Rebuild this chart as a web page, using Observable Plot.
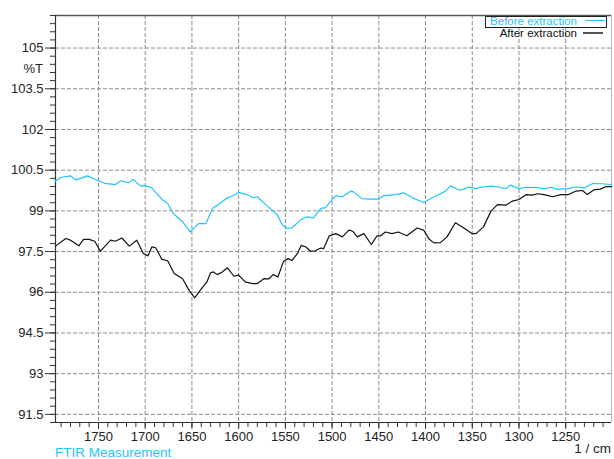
<!DOCTYPE html>
<html><head><meta charset="utf-8">
<script src="https://cdn.jsdelivr.net/npm/d3@7"></script>
<script src="https://cdn.jsdelivr.net/npm/@observablehq/plot@0.6"></script>
<style>
html,body{margin:0;padding:0;background:#fff;}
#wrap{position:relative;width:614px;height:459px;font-family:"Liberation Sans",Arial,sans-serif;overflow:hidden;}
#wrap svg{position:absolute;left:0;top:0;}
.t{position:absolute;white-space:nowrap;line-height:1;}
</style></head><body><div id="wrap"></div>
<script>
// Tick labels
const yTicks = [91.5, 93, 94.5, 96, 97.5, 99, 100.5, 102, 103.5, 105];
const xTicks = [1750, 1700, 1650, 1600, 1550, 1500, 1450, 1400, 1350, 1300, 1250];
const xDomain = [1796, 1201];
const yDomain = [91.2, 106.2];

// Series: Before extraction (wavenumber, %T)
const wnBefore = [1796,1791,1780,1774,1762,1750,1743,1732,1726,1718,1713,1705,1700,1693,1682,1676,1670,1660,1652,1646,1643,1635,1628,1621,1612,1607,1600,1591,1585,1580,1571,1559,1553,1548,1543,1534,1527,1520,1512,1507,1502,1496,1489,1480,1477,1468,1459,1450,1445,1432,1423,1414,1402,1391,1380,1373,1364,1359,1354,1346,1339,1329,1321,1314,1309,1300,1293,1282,1273,1266,1259,1248,1239,1230,1221,1211,1201];
const tBefore = [100.09,100.23,100.29,100.14,100.29,100.11,100.01,99.97,100.11,100.03,100.16,99.92,99.93,99.85,99.42,99.27,98.90,98.60,98.22,98.43,98.53,98.53,99.09,99.25,99.48,99.55,99.68,99.60,99.49,99.52,99.23,98.87,98.47,98.35,98.37,98.66,98.78,98.74,99.09,99.12,99.33,99.56,99.52,99.73,99.70,99.45,99.43,99.43,99.56,99.60,99.66,99.48,99.31,99.52,99.70,99.92,99.76,99.80,99.88,99.82,99.88,99.91,99.87,99.82,99.95,99.82,99.87,99.86,99.82,99.87,99.79,99.82,99.88,99.85,100.01,100.00,99.97];

// Series: After extraction (wavenumber, %T)
const wnAfter = [1796,1785,1780,1771,1766,1760,1754,1748,1743,1737,1732,1725,1717,1709,1702,1697,1693,1689,1682,1676,1669,1660,1653,1647,1641,1634,1630,1627,1623,1618,1612,1605,1600,1593,1585,1580,1573,1568,1563,1558,1552,1547,1543,1537,1533,1528,1523,1518,1512,1509,1503,1496,1489,1482,1478,1473,1466,1458,1452,1448,1443,1436,1429,1420,1409,1402,1396,1391,1384,1377,1368,1359,1350,1346,1338,1330,1323,1314,1307,1300,1292,1286,1280,1273,1264,1255,1247,1239,1232,1227,1220,1213,1207,1201];
const tAfter = [97.70,97.98,97.92,97.71,97.95,97.95,97.88,97.51,97.70,97.92,97.88,98.00,97.70,97.92,97.43,97.34,97.67,97.65,97.21,97.16,96.69,96.50,96.07,95.79,96.08,96.38,96.72,96.75,96.65,96.74,96.90,96.59,96.63,96.38,96.32,96.32,96.50,96.49,96.65,96.56,97.14,97.24,97.17,97.43,97.73,97.67,97.51,97.53,97.63,97.61,98.08,98.16,98.04,98.29,98.25,98.04,98.16,97.76,98.08,98.08,98.22,98.16,98.22,98.08,98.37,98.29,97.95,97.82,97.83,98.04,98.56,98.37,98.16,98.16,98.41,98.99,99.23,99.21,99.36,99.42,99.60,99.58,99.63,99.60,99.52,99.60,99.60,99.73,99.75,99.60,99.77,99.80,99.89,99.89];

const seriesNames = ["Before extraction", "After extraction"];
const CYAN = "#1ec6ff";
const BLACK = "#111";

const before = wnBefore.map((w, i) => ({w, t: tBefore[i]}));
const after = wnAfter.map((w, i) => ({w, t: tAfter[i]}));

const yMinor = d3.range(0, 51).map(k => +(yDomain[0] + k * 0.3).toFixed(2)).filter(v => v <= yDomain[1] + 1e-9);
const xMinor = d3.range(1210, 1800, 10).filter(v => v <= xDomain[0] && v >= xDomain[1]);

const gridStyle = {stroke: "#8c8c8c", strokeOpacity: 1, strokeWidth: 1, strokeDasharray: "4,2"};
const AX = "#333";

const plot = Plot.plot({
  width: 614, height: 459,
  marginLeft: 55, marginRight: 3, marginTop: 15, marginBottom: 37,
  style: {fontFamily: '"Liberation Sans", Arial, sans-serif', fontSize: "13px", color: "#222", background: "white", overflow: "visible"},
  x: {domain: xDomain},
  y: {domain: yDomain},
  marks: [
    Plot.gridX(xTicks, gridStyle),
    Plot.gridY(yTicks, gridStyle),
    Plot.axisY(yMinor, {tickSize: 5, tickFormat: () => "", label: null, stroke: AX}),
    Plot.axisY(yTicks, {tickSize: 10, tickPadding: 2, tickFormat: d => String(d), label: null, stroke: AX, fill: "#222"}),
    Plot.axisX(xMinor, {tickSize: 5, tickFormat: () => "", label: null, stroke: AX}),
    Plot.axisX(xTicks, {tickSize: 7, tickPadding: 2.5, tickFormat: d => String(d), label: null, stroke: AX, fill: "#222"}),
    Plot.ruleX([xDomain[1]], {stroke: "#bbb", strokeWidth: 1}),
    Plot.ruleY([yDomain[1]], {stroke: "#555", strokeWidth: 1.5}),
    Plot.ruleY([yDomain[0]], {stroke: AX, strokeWidth: 1.2}),
    Plot.ruleX([xDomain[0]], {stroke: AX, strokeWidth: 1.2}),
    Plot.line(before, {x: "w", y: "t", stroke: CYAN, strokeWidth: 1.2}),
    Plot.line(after, {x: "w", y: "t", stroke: BLACK, strokeWidth: 1.2})
  ]
});

const wrap = document.getElementById("wrap");
wrap.appendChild(plot);

function addText(txt, css) {
  const d = document.createElement("div");
  d.className = "t";
  d.textContent = txt;
  Object.assign(d.style, css);
  wrap.appendChild(d);
  return d;
}
function addBox(css) {
  const d = document.createElement("div");
  d.style.position = "absolute";
  Object.assign(d.style, css);
  wrap.appendChild(d);
}
// y label
addText("%T", {right: "571px", top: "61.5px", fontSize: "13px", color: "#222"});
// legend
addBox({left: "485px", top: "16px", width: "120px", height: "10px", border: "1px solid #222", background: "white"});
addText(seriesNames[0], {right: "37px", top: "15.5px", fontSize: "11.5px", color: CYAN});
addBox({left: "585px", top: "20px", width: "20px", height: "1.3px", background: CYAN});
addText(seriesNames[1], {right: "37px", top: "27.5px", fontSize: "11.5px", color: "#111"});
addBox({left: "583px", top: "31.5px", width: "20px", height: "2px", background: "#555"});
// captions
addText("FTIR Measurement", {left: "55px", top: "446px", fontSize: "13.5px", color: CYAN});
addText("1 / cm", {right: "3px", top: "442px", fontSize: "13.5px", color: "#222"});
</script></body></html>
